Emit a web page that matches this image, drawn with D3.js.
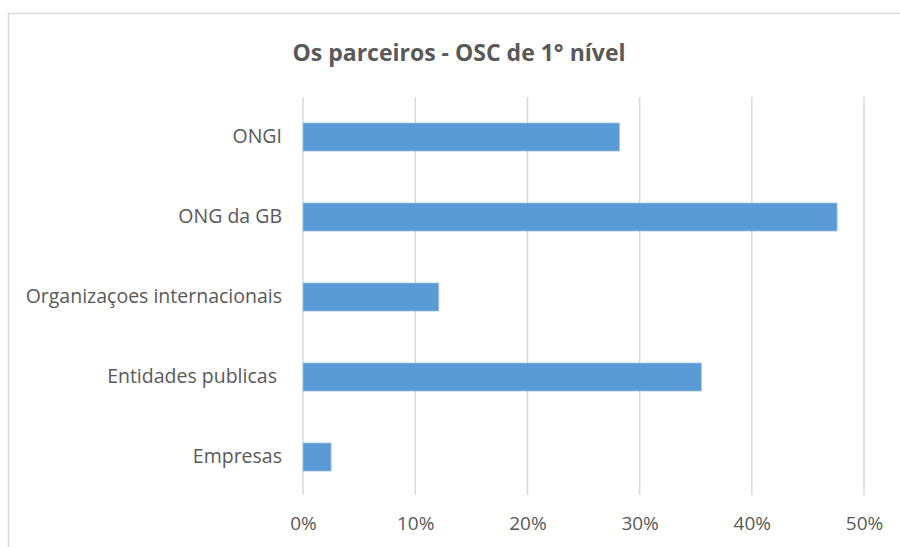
<!DOCTYPE html>
<html>
<head>
<meta charset="utf-8" />
<title>Os parceiros - OSC de 1° nível</title>
<style>
html, body {
    margin: 0;
    padding: 0;
    background: #fff;
}
#chart {
    width: 900px;
    height: 547px;
}
</style>
</head>
<body>
<div id="chart"></div>
<script src="https://cdn.jsdelivr.net/npm/d3@7"></script>
<script>
// data (share of respondents)
var categories = ["ONGI", "ONG da GB", "Organizaçoes internacionais", "Entidades publicas ", "Empresas"]
var shares = [0.282, 0.476, 0.121, 0.355, 0.025]
var ticks = [0, 0.1, 0.2, 0.3, 0.4, 0.5]
var title = "Os parceiros - OSC de 1° nível"

var width = 900, height = 547
var margin = {top: 97, left: 303, right: 36, bottom: 50}

var svg = d3.select("#chart").append("svg")
    .attr("width", width)
    .attr("height", height)

// outer frame of the chart area
svg.append("rect")
    .attr("x", 8.5).attr("y", 13.5)
    .attr("width", 1000).attr("height", 1000)
    .attr("fill", "#fff")
    .attr("stroke", "#d9d9d9")
    .attr("stroke-width", 1.5)

var x = d3.scaleLinear()
    .domain([0, 0.5])
    .range([margin.left, width - margin.right])

var y = d3.scaleBand()
    .domain(categories)
    .range([margin.top, height - margin.bottom])
    .paddingInner(0.65)
    .paddingOuter(0.325)

// vertical gridlines
svg.append("g")
    .selectAll("line")
    .data(ticks)
    .enter().append("line")
    .attr("x1", function(d) { return x(d) })
    .attr("x2", function(d) { return x(d) })
    .attr("y1", margin.top)
    .attr("y2", height - margin.bottom - 2)
    .attr("stroke", "#d9d9d9")
    .attr("stroke-width", 1.5)

// bars
svg.append("g")
    .selectAll("rect")
    .data(categories)
    .enter().append("rect")
    .attr("x", x(0))
    .attr("y", function(d) { return y(d) })
    .attr("width", function(d, i) { return x(shares[i]) - x(0) })
    .attr("height", y.bandwidth())
    .attr("fill", "#5b9bd5")
    .attr("stroke", "#9dc3e6")
    .attr("stroke-width", 0.8)

// x axis labels
var xAxis = svg.append("g")
    .attr("transform", "translate(0," + (height - margin.bottom) + ")")
    .call(d3.axisBottom(x).tickValues(ticks).tickFormat(d3.format(".0%")).tickSize(0).tickPadding(20))
xAxis.select(".domain").remove()
xAxis.selectAll("text")
    .attr("font-family", "Open Sans, sans-serif")
    .attr("font-size", "19px")
    .attr("fill", "#595959")

// category labels
var yAxis = svg.append("g")
    .attr("transform", "translate(" + (margin.left - 21) + ",0)")
    .call(d3.axisLeft(y).tickSize(0).tickPadding(0))
yAxis.select(".domain").remove()
yAxis.selectAll("text")
    .attr("font-family", "Open Sans, sans-serif")
    .attr("font-size", "19.5px")
    .attr("fill", "#595959")
    .style("white-space", "pre")

// title
svg.append("text")
    .attr("x", 459)
    .attr("y", 61)
    .attr("text-anchor", "middle")
    .attr("font-family", "Open Sans, sans-serif")
    .attr("font-weight", "bold")
    .attr("font-size", "23px")
    .attr("fill", "#595959")
    .text(title)
</script>
</body>
</html>
